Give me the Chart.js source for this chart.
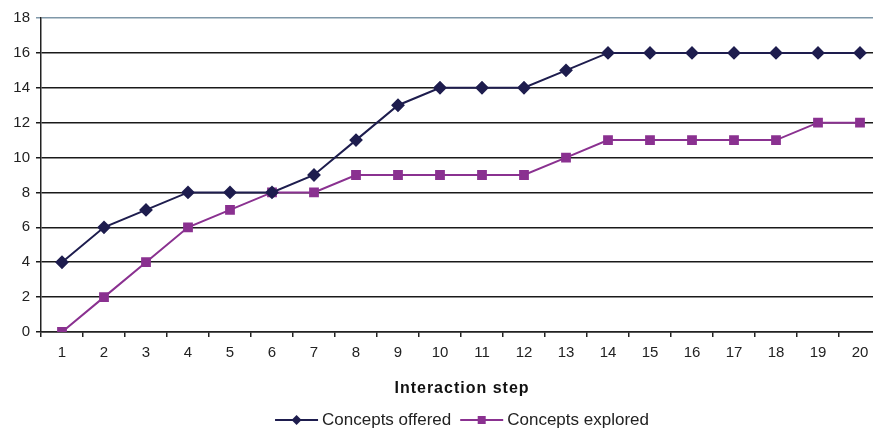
<!DOCTYPE html>
<html><head><meta charset="utf-8">
<script src="https://cdn.jsdelivr.net/npm/chart.js@4"></script>
<style>
html,body{margin:0;padding:0;background:#fff;overflow:hidden;width:873px;height:435px;}
#wrap{width:890px;height:435px;position:relative;}
</style></head>
<body>
<div id="wrap"><canvas id="c" width="890" height="435"></canvas></div>
<script>
const categories = ['1','2','3','4','5','6','7','8','9','10','11','12','13','14','15','16','17','18','19','20'];
const offered = [4,6,7,8,8,8,9,11,13,14,14,14,15,16,16,16,16,16,16,16];
const explored = [0,2,4,6,7,8,8,9,9,9,9,9,10,11,11,11,11,11,12,12];
const seriesNames = ['Concepts offered','Concepts explored'];
const xTitle = 'Interaction step';

const offeredColor = '#1e1d4e';
const exploredColor = '#8a3190';
const FONT = '"Liberation Sans", Arial, sans-serif';

const legendPlugin = {
  id: 'lineLegend',
  afterDraw(chart) {
    const ctx = chart.ctx;
    ctx.save();
    // axis title
    ctx.font = 'bold 16px ' + FONT;
    ctx.fillStyle = '#111';
    ctx.textAlign = 'center';
    ctx.textBaseline = 'middle';
    try { ctx.letterSpacing = '1px'; } catch (e) {}
    const area = chart.chartArea;
    ctx.fillText(xTitle, 462, 389);
    try { ctx.letterSpacing = '0px'; } catch (e) {}
    // legend
    const items = [
      {text: seriesNames[0], color: offeredColor, style: 'diamond'},
      {text: seriesNames[1], color: exploredColor, style: 'square'}
    ];
    ctx.font = '17px ' + FONT;
    ctx.textAlign = 'left';
    const lineW = 43, gap = 4, sep = 9;
    let total = 0;
    items.forEach(it => { it.w = ctx.measureText(it.text).width; total += lineW + gap + it.w; });
    total += sep;
    let x = 462 - total / 2;
    const y = 420;
    items.forEach(it => {
      ctx.strokeStyle = it.color; ctx.lineWidth = 2;
      ctx.beginPath(); ctx.moveTo(x, y); ctx.lineTo(x + lineW, y); ctx.stroke();
      ctx.fillStyle = it.color;
      const cx = x + lineW / 2;
      if (it.style === 'diamond') {
        ctx.beginPath(); ctx.moveTo(cx, y - 5); ctx.lineTo(cx + 5, y); ctx.lineTo(cx, y + 5); ctx.lineTo(cx - 5, y); ctx.closePath(); ctx.fill();
      } else {
        ctx.fillRect(cx - 4, y - 4, 8, 8);
      }
      ctx.fillStyle = '#222';
      ctx.fillText(it.text, x + lineW + gap, y);
      x += lineW + gap + it.w + sep;
    });
    ctx.restore();
  }
};

new Chart(document.getElementById('c'), {
  type: 'line',
  data: {
    labels: categories,
    datasets: [
      {label: seriesNames[0], data: offered, borderColor: offeredColor, backgroundColor: offeredColor,
       borderWidth: 2, pointStyle: 'rectRot', pointRadius: 5.5, pointHoverRadius: 5.5, tension: 0},
      {label: seriesNames[1], data: explored, borderColor: exploredColor, backgroundColor: exploredColor,
       borderWidth: 2, pointStyle: 'rect', pointRadius: 5.5, pointHoverRadius: 5.5, tension: 0}
    ]
  },
  plugins: [legendPlugin],
  options: {
    responsive: false,
    animation: false,
    events: [],
    layout: {padding: {top: 18, right: 9, bottom: 36, left: 0}},
    plugins: {legend: {display: false}, tooltip: {enabled: false}},
    scales: {
      x: {
        offset: true,
        grid: {display: true, drawOnChartArea: false, drawTicks: true, tickLength: 5, color: '#222', lineWidth: 1.5, offset: true},
        border: {display: true, color: '#222', width: 1.5},
        ticks: {color: '#222', font: {size: 15, family: FONT}, padding: 7, maxRotation: 0, autoSkip: false},
        afterFit(scale) { scale.height = 435 - 36 - 332; }
      },
      y: {
        min: 0, max: 18,
        ticks: {stepSize: 2, color: '#222', font: {size: 15, family: FONT}, padding: 6},
        grid: {color: ctx => ctx.tick && ctx.tick.value === 18 ? '#7f97a8' : '#1a1a1a', lineWidth: 1.5, tickLength: 5, drawTicks: true},
        border: {display: true, color: '#222', width: 1.5},
        afterFit(scale) { scale.width = 41; }
      }
    }
  }
});
</script>
</body></html>
